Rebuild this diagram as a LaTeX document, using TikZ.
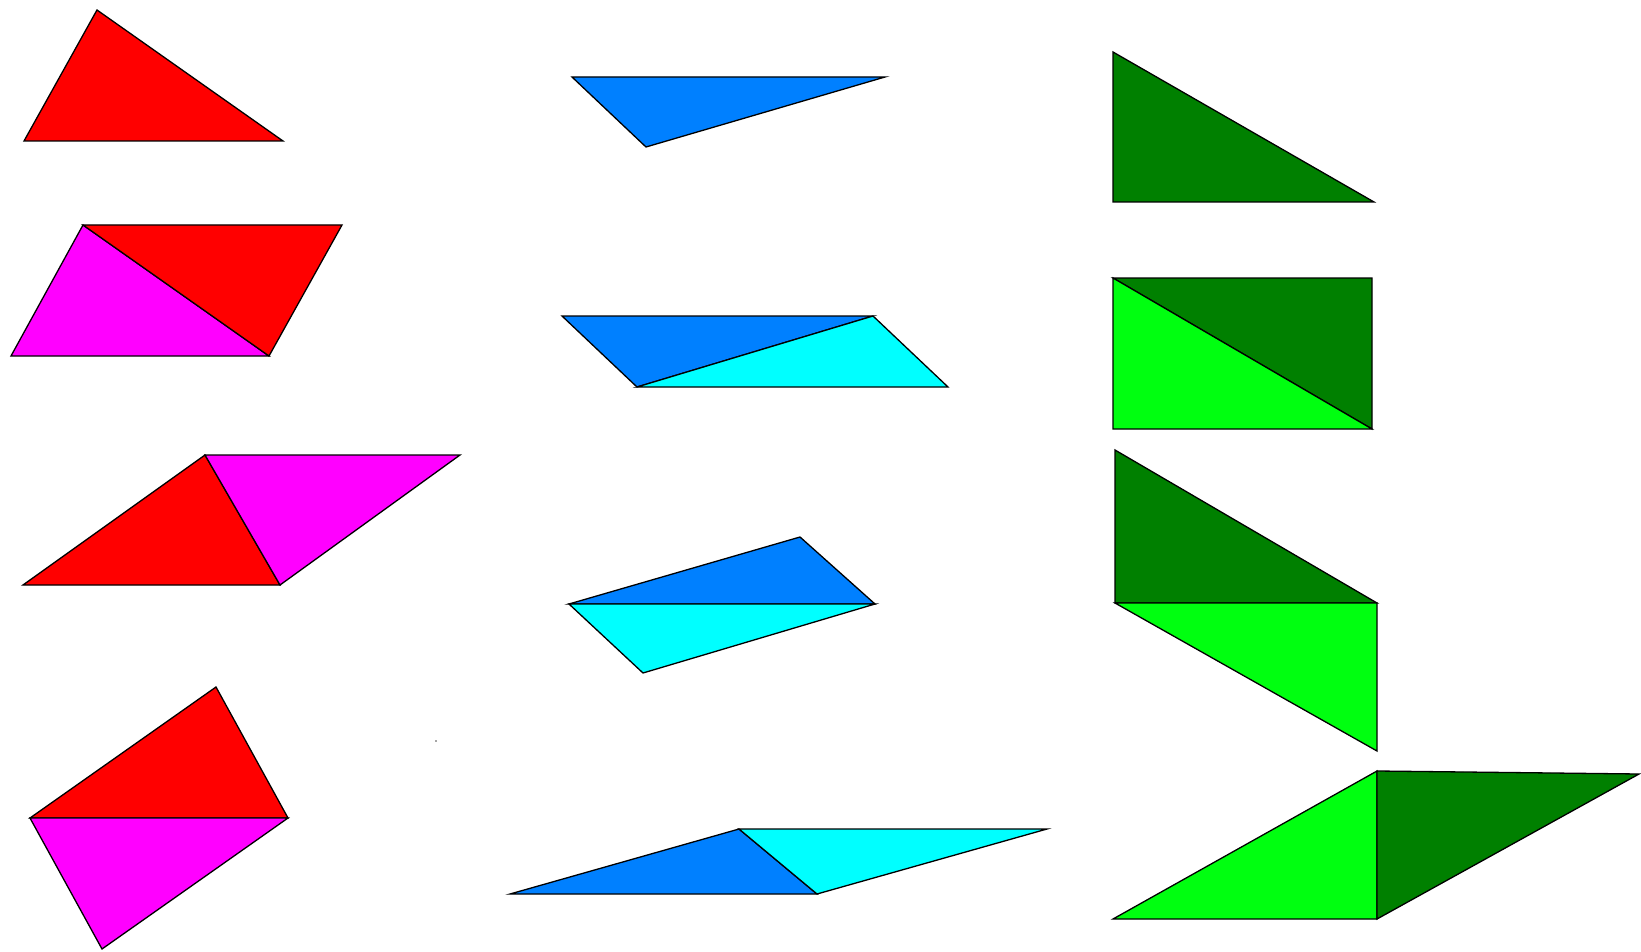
\documentclass[tikz,border=0pt]{standalone}
\usepackage{tikz}
\definecolor{cred}{HTML}{FF0000}
\definecolor{cmag}{HTML}{FF00FF}
\definecolor{cblue}{HTML}{0080FF}
\definecolor{ccyan}{HTML}{00FFFF}
\definecolor{cdgreen}{HTML}{008000}
\definecolor{clgreen}{HTML}{00FF10}
\tikzset{
  piece/.style={draw=black, line width=1.3pt, line join=miter},
  redp/.style={piece, fill=cred},
  magp/.style={piece, fill=cmag},
  bluep/.style={piece, fill=cblue},
  cyanp/.style={piece, fill=ccyan},
  dgreenp/.style={piece, fill=cdgreen},
  lgreenp/.style={piece, fill=clgreen}
}
\begin{document}
\begin{tikzpicture}[x=1pt,y=-1pt]
\fill[white] (0,0) rectangle (1641,952);
\useasboundingbox (0,0) rectangle (1641,952);

% ---------- red column ----------
\draw[redp] (97,10) -- (24,141) -- (283,141) -- cycle;

\draw[magp] (83,225) -- (11,356) -- (269,356) -- cycle;
\draw[redp] (83,225) -- (342,225) -- (269,356) -- cycle;

\draw[redp] (23,585) -- (205,455) -- (280,585) -- cycle;
\draw[magp] (205,455) -- (460,455) -- (280,585) -- cycle;

\draw[redp] (30,818) -- (216,687) -- (288,818) -- cycle;
\draw[magp] (30,818) -- (288,818) -- (102,949) -- cycle;

\fill[black!70] (436,741) circle (0.8);

% ---------- blue column ----------
\draw[bluep] (572,77) -- (885,77) -- (646,147) -- cycle;

\draw[bluep] (562,316) -- (873,316) -- (637,387) -- cycle;
\draw[cyanp] (873,316) -- (948,387) -- (637,387) -- cycle;

\draw[bluep] (569,604) -- (800,537) -- (875,604) -- cycle;
\draw[cyanp] (569,604) -- (875,604) -- (643,673) -- cycle;

\draw[bluep] (510,894) -- (739,829) -- (817,894) -- cycle;
\draw[cyanp] (739,829) -- (1047,829) -- (817,894) -- cycle;

% ---------- green column ----------
\draw[dgreenp] (1113,52) -- (1113,202) -- (1374,202) -- cycle;

\draw[dgreenp] (1113,278) -- (1372,278) -- (1372,429) -- cycle;
\draw[lgreenp] (1113,278) -- (1113,429) -- (1372,429) -- cycle;

\draw[dgreenp] (1115,450) -- (1115,603) -- (1377,603) -- cycle;
\draw[lgreenp] (1115,603) -- (1377,603) -- (1377,751) -- cycle;

\draw[lgreenp] (1113,919) -- (1377,771) -- (1377,919) -- cycle;
\draw[dgreenp] (1377,771) -- (1639,774) -- (1377,919) -- cycle;
\end{tikzpicture}
\end{document}
